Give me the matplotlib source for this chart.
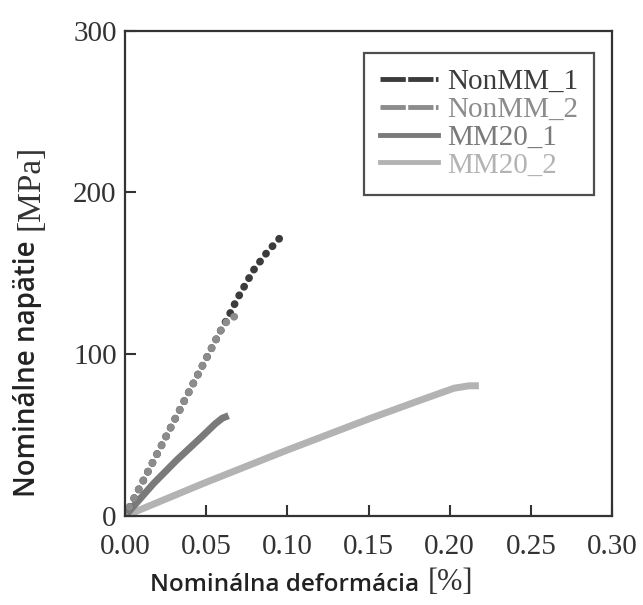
import matplotlib
matplotlib.use("Agg")
import matplotlib.pyplot as plt
from matplotlib.lines import Line2D

# Stress–strain curves (strain in %, stress in MPa)
nonmm1_x = [0.0, 0.0082, 0.0165, 0.0278, 0.039, 0.0514, 0.0586, 0.0636, 0.069, 0.0792, 0.0875, 0.0973]
nonmm1_y = [0.0, 16.0, 32.0, 54.0, 76.0, 100.0, 114.0, 123.0, 134.0, 152.0, 163.0, 174.0]

nonmm2_x = [0.0, 0.0082, 0.0165, 0.0278, 0.039, 0.0514, 0.0586, 0.0636, 0.068, 0.072]
nonmm2_y = [0.0, 16.0, 32.0, 54.0, 76.0, 100.0, 114.0, 121.5, 123.5, 124.0]

mm201_x = [0.0, 0.0175, 0.0319, 0.0473, 0.0556, 0.060, 0.0638]
mm201_y = [0.0, 20.0, 34.6, 49.0, 57.0, 60.5, 62.0]

mm202_x = [0.0, 0.0484, 0.0998, 0.151, 0.182, 0.2027, 0.212, 0.218]
mm202_y = [0.0, 20.2, 40.7, 60.3, 71.6, 79.0, 80.5, 80.5]

labels = ["NonMM_1", "NonMM_2", "MM20_1", "MM20_2"]
colors = ["#3c3c3c", "#8c8c8c", "#7a7a7a", "#b3b3b3"]

x_ticks = [0.00, 0.05, 0.10, 0.15, 0.20, 0.25, 0.30]
y_ticks = [0, 100, 200, 300]

W, H = 643, 605
fig = plt.figure(figsize=(W / 100, H / 100), dpi=100)
ax = fig.add_axes([125 / W, 1 - 516 / H, (612 - 125) / W, (516 - 30.7) / H])

dot_style = dict(linestyle=(0, (0.05, 1.25)), dash_capstyle="round", linewidth=5.5)
ax.plot(mm202_x, mm202_y, color=colors[3], linewidth=5.0, solid_capstyle="butt")
ax.plot(mm201_x, mm201_y, color=colors[2], linewidth=5.0, solid_capstyle="butt")
ax.plot(nonmm1_x, nonmm1_y, color=colors[0], **dot_style)
ax.plot(nonmm2_x, nonmm2_y, color=colors[1], **dot_style)

ax.set_xlim(0, 0.30)
ax.set_ylim(0, 300)
ax.set_xticks(x_ticks)
ax.set_xticklabels([f"{v:.2f}" for v in x_ticks])
ax.set_yticks(y_ticks)
ax.set_yticklabels([str(v) for v in y_ticks])

serif = ["Liberation Serif", "DejaVu Serif"]
for lab in ax.get_xticklabels() + ax.get_yticklabels():
    lab.set_fontfamily(serif)
    lab.set_fontsize(21)
    lab.set_color("#333333")

ax.tick_params(axis="both", direction="in", length=8, width=1.5, color="#333333",
               top=False, right=False)
ax.tick_params(axis="x", pad=13)
ax.tick_params(axis="y", pad=6)
for sp in ax.spines.values():
    sp.set_linewidth(1.6)
    sp.set_color("#333333")

# Axis titles: sans-serif name followed by a serif unit in brackets
sans_x = dict(family="Open Sans", fontsize=17.5, fontweight="semibold", color="#222222")
sans_y = dict(family="Open Sans", fontsize=20, fontweight="semibold", color="#222222")
unit_x = dict(family=serif, fontsize=22, color="#333333")
unit_y = dict(family=serif, fontsize=24, color="#333333")

xl = fig.text(150 / W, 1 - 585 / H, "Nominálna deformácia", ha="left", va="center", **sans_x)
yl = fig.text(28 / W, 1 - 497 / H, "Nominálne napätie", rotation=90, ha="center", va="bottom", **sans_y)
fig.canvas.draw()
r = fig.canvas.get_renderer()
xb = xl.get_window_extent(r)
yb = yl.get_window_extent(r)
fig.text((xb.x1 + 9) / W, 1 - 583 / H, "[%]", ha="left", va="center", **unit_x)
fig.text(30 / W, (yb.y1 + 10) / H, "[MPa]", rotation=90, ha="center", va="bottom", **unit_y)

handles = [
    Line2D([], [], color=colors[0], linewidth=3.5, linestyle=(0, (5.2, 0.5))),
    Line2D([], [], color=colors[1], linewidth=3.5, linestyle=(0, (5.2, 0.5))),
    Line2D([], [], color=colors[2], linewidth=3.5),
    Line2D([], [], color=colors[3], linewidth=3.5),
]
leg = ax.legend(handles, labels, loc="upper right", bbox_to_anchor=(0.963, 0.955),
                prop={"family": serif, "size": 21}, labelcolor=colors,
                frameon=True, fancybox=False, edgecolor="#222222",
                handlelength=2.0, handletextpad=0.3, labelspacing=0.05,
                borderpad=0.55, borderaxespad=0.0)
leg.get_frame().set_linewidth(1.6)

fig.savefig("out.png", dpi=100)
